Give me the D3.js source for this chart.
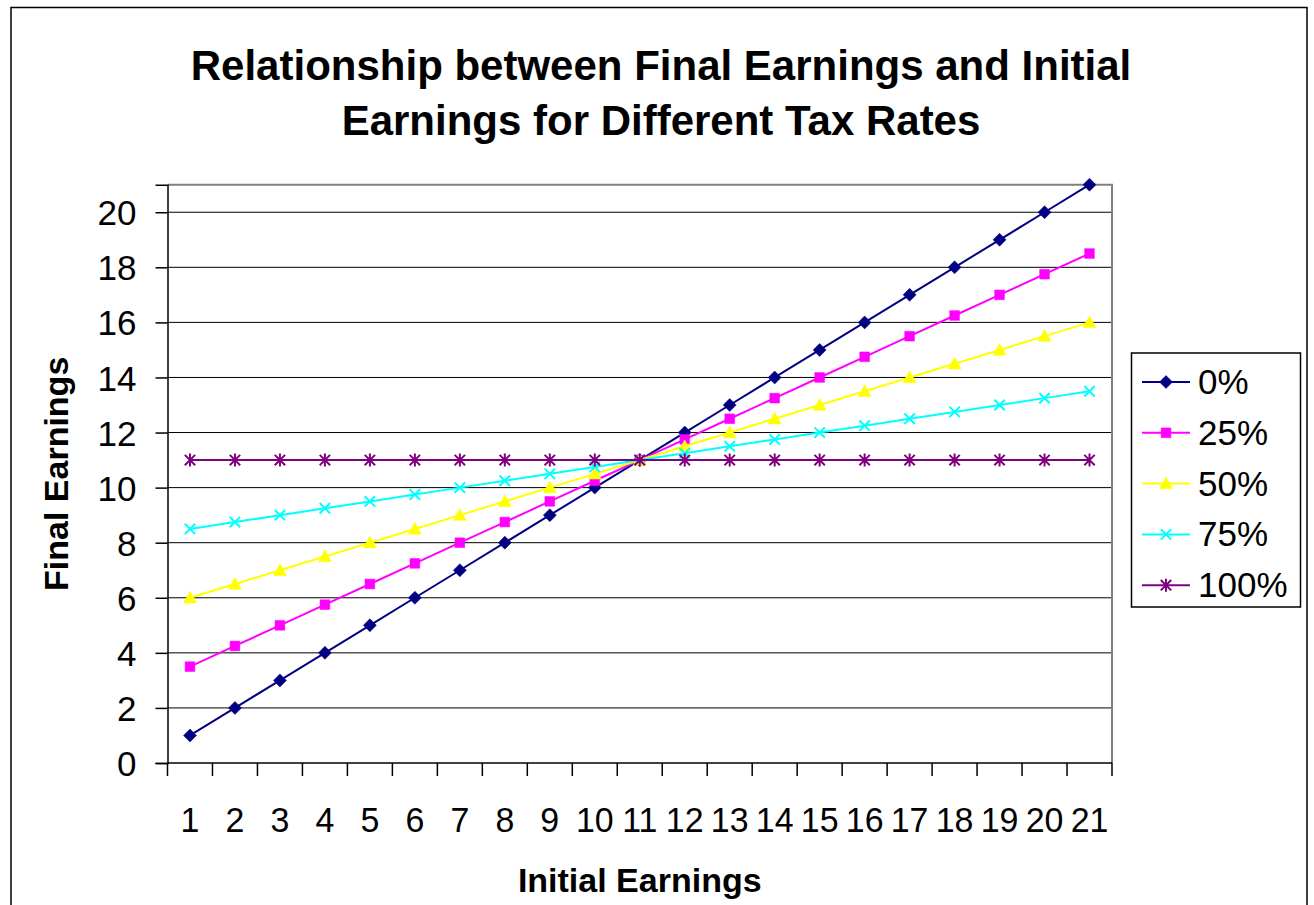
<!DOCTYPE html>
<html>
<head>
<meta charset="utf-8">
<script src="https://cdn.jsdelivr.net/npm/d3@7"></script>
<style>
  html, body { margin: 0; padding: 0; background: #fff; }
  svg { display: block; font-family: "Liberation Sans", Arial, sans-serif; }
</style>
</head>
<body>
<svg id="chart" width="1314" height="905"></svg>
<script>
// ---- data ----
const categories = [1,2,3,4,5,6,7,8,9,10,11,12,13,14,15,16,17,18,19,20,21];
const seriesNames = ["0%", "25%", "50%", "75%", "100%"];
const tax0   = [1,2,3,4,5,6,7,8,9,10,11,12,13,14,15,16,17,18,19,20,21];
const tax25  = [3.5,4.25,5,5.75,6.5,7.25,8,8.75,9.5,10.25,11,11.75,12.5,13.25,14,14.75,15.5,16.25,17,17.75,18.5];
const tax50  = [6,6.5,7,7.5,8,8.5,9,9.5,10,10.5,11,11.5,12,12.5,13,13.5,14,14.5,15,15.5,16];
const tax75  = [8.5,8.75,9,9.25,9.5,9.75,10,10.25,10.5,10.75,11,11.25,11.5,11.75,12,12.25,12.5,12.75,13,13.25,13.5];
const tax100 = [11,11,11,11,11,11,11,11,11,11,11,11,11,11,11,11,11,11,11,11,11];
const yTicks = [0,2,4,6,8,10,12,14,16,18,20];
const titleLines = ["Relationship between Final Earnings and Initial", "Earnings for Different Tax Rates"];
const xTitle = "Initial Earnings";
const yTitle = "Final Earnings";

const seriesValues = [tax0, tax25, tax50, tax75, tax100];
const colors = ["#000080", "#FF00FF", "#FFFF00", "#00FFFF", "#800080"];
const markers = ["diamond", "square", "triangle", "x", "star"];

// ---- layout ----
const svg = d3.select("#chart");
const L = 167.5, R = 1112, T = 184.7, B = 763;

// outer border
svg.append("rect").attr("x", 11).attr("y", 7.5).attr("width", 1296).attr("height", 1000)
  .attr("fill", "none").attr("stroke", "#000").attr("stroke-width", 1.5);

const x = d3.scaleBand().domain(categories).range([L, R]).padding(0);
const y = d3.scaleLinear().domain([0, 21]).range([B, T]);
const cx = d => x(d) + x.bandwidth() / 2;

// gridlines
svg.append("g").selectAll("line").data(yTicks.filter(t => t > 0)).join("line")
  .attr("x1", L).attr("x2", R).attr("y1", d => y(d)).attr("y2", d => y(d))
  .attr("stroke", "#000").attr("stroke-width", 1);

// plot border top/right (grey)
svg.append("path").attr("d", `M${L},${T}H${R}V${B}`).attr("fill", "none")
  .attr("stroke", "#808080").attr("stroke-width", 2);

// y axis
const yAxis = d3.axisLeft(y).tickValues(yTicks).tickSize(12).tickPadding(19);
const gy = svg.append("g").attr("transform", `translate(${L},0)`).call(yAxis);
gy.select(".domain").attr("stroke", "#000").attr("stroke-width", 1.5);
gy.selectAll(".tick line").attr("stroke", "#000").attr("stroke-width", 1.5);
gy.selectAll(".tick text").attr("font-size", 35).attr("fill", "#000")
  .attr("font-family", "Liberation Sans, Arial, sans-serif").attr("dy", "0.36em");

// x axis: line + ticks between categories
const gx = svg.append("g");
gx.append("line").attr("x1", L).attr("x2", R).attr("y1", B).attr("y2", B)
  .attr("stroke", "#000").attr("stroke-width", 1.5);
const bounds = categories.map(c => x(c)).concat([R]);
gx.selectAll("line.tk").data(bounds).join("line").attr("class", "tk")
  .attr("x1", d => d).attr("x2", d => d).attr("y1", B).attr("y2", B + 13)
  .attr("stroke", "#000").attr("stroke-width", 1.5);
gx.selectAll("text").data(categories).join("text")
  .attr("transform", d => `translate(${cx(d)},832) scale(0.97,1)`)
  .attr("text-anchor", "middle").attr("font-size", 35).attr("fill", "#000")
  .text(d => d);

// lines + markers
const symbolPath = (type, s) => {
  switch (type) {
    case "diamond": return `M0,${-s}L${s},0L0,${s}L${-s},0Z`;
    case "square": return `M${-s*0.75},${-s*0.75}H${s*0.75}V${s*0.75}H${-s*0.75}Z`;
    case "triangle": return `M0,${-s}L${s},${s*0.8}L${-s},${s*0.8}Z`;
    case "x": return `M${-s*0.8},${-s*0.8}L${s*0.8},${s*0.8}M${s*0.8},${-s*0.8}L${-s*0.8},${s*0.8}`;
    case "star": return `M${-s*0.8},${-s*0.8}L${s*0.8},${s*0.8}M${s*0.8},${-s*0.8}L${-s*0.8},${s*0.8}M0,${-s}V${s}`;
  }
};
const line = d3.line().x((d, i) => cx(categories[i])).y(d => y(d));

seriesValues.forEach((vals, si) => {
  const g = svg.append("g");
  g.append("path").datum(vals).attr("d", line).attr("fill", "none")
    .attr("stroke", colors[si]).attr("stroke-width", 2);
  const filled = ["diamond", "square", "triangle"].includes(markers[si]);
  g.selectAll("path.m").data(vals).join("path").attr("class", "m")
    .attr("transform", (d, i) => `translate(${cx(categories[i])},${y(d)})`)
    .attr("d", symbolPath(markers[si], 6.5))
    .attr("fill", filled ? colors[si] : "none")
    .attr("stroke", colors[si]).attr("stroke-width", filled ? 0.5 : 2);
});

// titles
const title = svg.append("text").attr("text-anchor", "middle").attr("font-size", 42)
  .attr("font-weight", "bold").attr("fill", "#000");
titleLines.forEach((t, i) => {
  title.append("tspan").attr("x", 661).attr("y", 80 + i * 55).text(t);
});
svg.append("text").attr("x", (L + R) / 2).attr("y", 892).attr("text-anchor", "middle")
  .attr("font-size", 34).attr("font-weight", "bold").text(xTitle);
svg.append("text").attr("transform", `translate(68,${(T + B) / 2}) rotate(-90)`)
  .attr("text-anchor", "middle").attr("font-size", 34).attr("font-weight", "bold").text(yTitle);

// legend
const lg = svg.append("g");
lg.append("rect").attr("x", 1131.5).attr("y", 353).attr("width", 169).attr("height", 254)
  .attr("fill", "#fff").attr("stroke", "#000").attr("stroke-width", 1.5);
seriesNames.forEach((name, i) => {
  const yy = 382 + i * 50.8;
  lg.append("line").attr("x1", 1142).attr("x2", 1190).attr("y1", yy).attr("y2", yy)
    .attr("stroke", colors[i]).attr("stroke-width", 2);
  const filled = ["diamond", "square", "triangle"].includes(markers[i]);
  lg.append("path").attr("transform", `translate(1166,${yy})`).attr("d", symbolPath(markers[i], 6.5))
    .attr("fill", filled ? colors[i] : "none").attr("stroke", colors[i]).attr("stroke-width", filled ? 0.5 : 2);
  lg.append("text").attr("x", 1198).attr("y", yy + 12).attr("font-size", 35).attr("fill", "#000").text(name);
});
</script>
</body>
</html>
